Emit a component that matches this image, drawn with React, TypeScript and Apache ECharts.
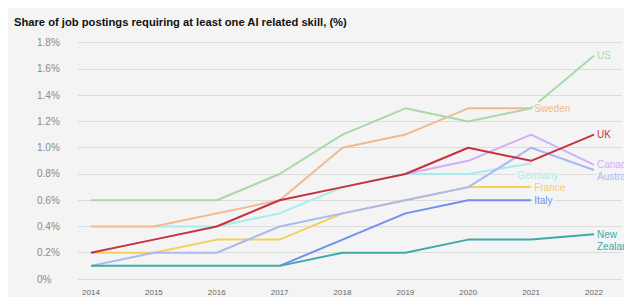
import React, { useEffect, useRef } from "react";
import * as echarts from "echarts";

const years = [2014, 2015, 2016, 2017, 2018, 2019, 2020, 2021, 2022];
const yTicks = [0, 0.2, 0.4, 0.6, 0.8, 1.0, 1.2, 1.4, 1.6, 1.8];

const germany = [null, 0.4, 0.4, 0.5, 0.7, 0.8, 0.8, 0.88, null];
const canada = [null, null, null, null, null, 0.8, 0.9, 1.1, 0.87];
const france = [0.2, 0.2, 0.3, 0.3, 0.5, 0.6, 0.7, 0.7, null];
const australia = [0.1, 0.2, 0.2, 0.4, 0.5, 0.6, 0.7, 1.0, 0.83];
const italy = [null, null, null, 0.1, 0.3, 0.5, 0.6, 0.6, null];
const newZealand = [0.1, 0.1, 0.1, 0.1, 0.2, 0.2, 0.3, 0.3, 0.34];
const sweden = [0.4, 0.4, 0.5, 0.6, 1.0, 1.1, 1.3, 1.3, null];
const us = [0.6, 0.6, 0.6, 0.8, 1.1, 1.3, 1.2, 1.3, 1.7];
const uk = [0.2, 0.3, 0.4, 0.6, 0.7, 0.8, 1.0, 0.9, 1.1];

const BG = "#f4f4f4";
const FONT = "'Liberation Sans', Arial, Helvetica, sans-serif";

const seriesDefs = [
  { name: "Germany", values: germany, color: "#a6ecec", offset: [-17, 12] },
  { name: "Canada", values: canada, color: "#d5aef5", offset: [0, 0] },
  { name: "France", values: france, color: "#f5cf5b", offset: [0, 0] },
  { name: "Australia", values: australia, color: "#a9b9f2", offset: [0, 6] },
  { name: "Italy", values: italy, color: "#6e91ee", offset: [0, 0] },
  { name: "New\nZealand", values: newZealand, color: "#3eaaa9", offset: [0, 6] },
  { name: "Sweden", values: sweden, color: "#f2b98e", offset: [0, 0] },
  { name: "US", values: us, color: "#a9d9ab", offset: [0, 0] },
  { name: "UK", values: uk, color: "#c8323e", offset: [0, 0] },
];

export default function App() {
  const ref = useRef<HTMLDivElement>(null);
  useEffect(() => {
    if (!ref.current) return;
    const chart = echarts.init(ref.current, undefined, { renderer: "svg" });
    chart.setOption({
      animation: false,
      backgroundColor: BG,
      title: {
        text: "Share of job postings requiring at least one AI related skill, (%)",
        left: 1,
        top: 3,
        textStyle: { fontSize: 11.2, fontWeight: "bold", color: "#111", fontFamily: FONT },
      },
      grid: { left: 70, right: 10, top: 34.7, bottom: 18 },
      xAxis: {
        type: "value",
        min: 2013.7932,
        max: 2022.4453,
        axisLine: { show: false },
        axisTick: { show: false },
        splitLine: { show: false },
        axisLabel: {
          customValues: years,
          formatter: (v: number) => String(Math.round(v)),
          fontSize: 8,
          color: "#666",
          fontFamily: FONT,
          margin: 9,
        },
      },
      yAxis: {
        type: "value",
        min: 0,
        max: 1.8,
        interval: 0.2,
        axisLine: { show: false },
        axisTick: { show: false },
        splitLine: { lineStyle: { color: "#dcdcdc", width: 1 } },
        axisLabel: {
          customValues: yTicks,
          formatter: (v: number) => (v === 0 ? "0%" : v.toFixed(1) + "%"),
          align: "left",
          margin: 41,
          fontSize: 10,
          color: "#8a8a8a",
          fontFamily: FONT,
        },
      },
      series: seriesDefs.map((s) => ({
        type: "line",
        name: s.name,
        symbol: "none",
        lineStyle: { color: s.color, width: 2 },
        itemStyle: { color: s.color },
        data: years
          .map((y, i) => (s.values[i] == null ? null : [y, s.values[i]]))
          .filter((d) => d !== null),
        endLabel: {
          show: true,
          formatter: s.name,
          color: s.color,
          fontSize: 10,
          fontFamily: FONT,
          distance: 3,
          offset: s.offset,
          lineHeight: 12,
          textBorderColor: BG,
          textBorderWidth: 4,
        },
      })),
    });
    return () => chart.dispose();
  }, []);
  return <div ref={ref} style={{ width: 624, height: 289 }} />;
}
